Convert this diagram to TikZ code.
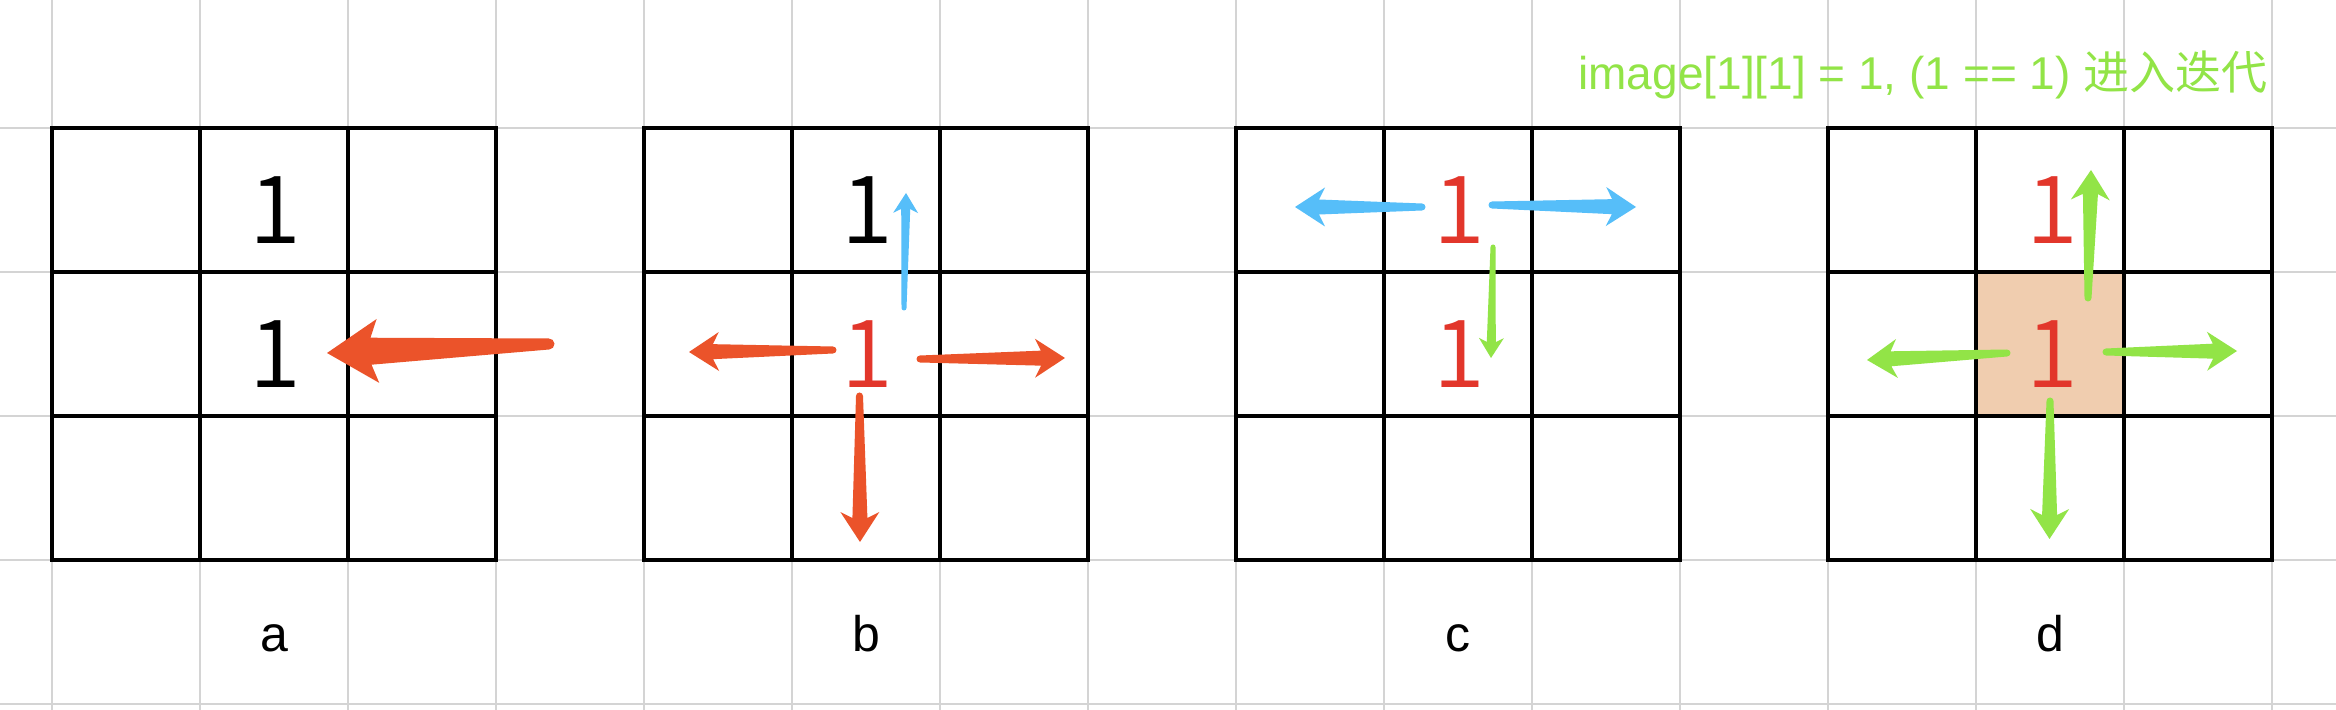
\documentclass[tikz,border=0pt]{standalone}
\usepackage{fontspec}
\usetikzlibrary{calc}
\setmainfont{Liberation Sans}
\newfontfamily\cjk{Noto Sans CJK SC}
\IfFontExistsTF{Noto Sans CJK SC DemiLight}{\newfontfamily\numfont{Noto Sans CJK SC DemiLight}}{%
  \IfFontExistsTF{Noto Sans CJK SC Light}{\newfontfamily\numfont{Noto Sans CJK SC Light}}{\newfontfamily\numfont{Noto Sans CJK SC}}}
\definecolor{gridgray}{HTML}{D4D4D4}
\definecolor{arrowred}{HTML}{EB532A}
\definecolor{numred}{HTML}{E2362B}
\definecolor{skyblue}{HTML}{56BEF9}
\definecolor{limegreen}{HTML}{92E447}
\definecolor{peach}{HTML}{F0CDAF}
% tapered arrow: #1 colour, #2 from, #3 to, #4 head length, #5 head half width,
% #6 notch, #7 shaft half width at head, #8 tail half width (all in px)
\newcommand{\tarrow}[8]{%
  \path let \p1=(#2), \p2=(#3), \n1={atan2(\y2-\y1,\x2-\x1)}, \n2={veclen(\x2-\x1,\y2-\y1)} in
    \pgfextra{\xdef\tarAng{\n1}\xdef\tarLen{\n2}\xdef\tarX{\x1}\xdef\tarY{\y1}};
  \begin{scope}[shift={(\tarX,\tarY)}, rotate=\tarAng]
    \fill[#1] (0pt,{#8*0.5pt}) -- ({\tarLen-(#4-#6)*0.5pt},{#7*0.5pt})
      -- ({\tarLen-#4*0.5pt},{#5*0.5pt}) -- ({\tarLen+0pt},0pt)
      -- ({\tarLen-#4*0.5pt},{-#5*0.5pt}) -- ({\tarLen-(#4-#6)*0.5pt},{-#7*0.5pt})
      -- (0pt,{-#8*0.5pt}) arc[start angle=-90, end angle=-270, radius={#8*0.5pt}] -- cycle;
  \end{scope}}
\newcommand{\bigarrow}[3]{\tarrow{#1}{#2}{#3}{51}{32}{7}{13.5}{5.5}}
\newcommand{\midarrow}[3]{\tarrow{#1}{#2}{#3}{30}{19.5}{6}{7.5}{3.5}}
\newcommand{\thinarrow}[3]{\tarrow{#1}{#2}{#3}{20}{12.5}{4}{4.5}{2.5}}
\tikzset{
  bggrid/.style={draw=gridgray, line width=0.75pt},
  board/.style={draw=black, line width=2pt, line cap=rect},
  digit/.style={anchor=base, inner sep=0pt, font=\numfont\fontsize{47}{50}\selectfont},
  lab/.style={anchor=base, inner sep=0pt, font=\fontsize{25}{30}\selectfont},
}
\begin{document}
\begin{tikzpicture}[x=0.5pt, y=-0.5pt]
\useasboundingbox (0,0) rectangle (2336,710);
\fill[white] (0,0) rectangle (2336,710);
% background grid
\foreach \k in {0,...,15} { \draw[bggrid] ({52+148*\k},0) -- ({52+148*\k},710); }
\foreach \y in {-16,128,272,416,560,704} { \draw[bggrid] (0,\y) -- (2336,\y); }
% highlighted cell of d
\fill[peach] (1976,272) rectangle (2124,416);
% boards
\foreach \p in {0,1,2,3} {
  \foreach \c in {0,1,2,3} {
    \draw[board] ({52+592*\p+148*\c},128) -- ({52+592*\p+148*\c},560);
    \draw[board] ({52+592*\p},{128+144*\c}) -- ({52+592*\p+444},{128+144*\c});
  }
}
% digits
\node[digit] (a1) at (275,244) {1};
\node[digit] (a2) at (275,388) {1};
\node[digit] (b1) at (867,244) {1};
\node[digit, text=numred] (b2) at (867,388) {1};
\node[digit, text=numred] (c1) at (1459,244) {1};
\node[digit, text=numred] (c2) at (1459,388) {1};
\node[digit, text=numred] (d1) at (2052,244) {1};
\node[digit, text=numred] (d2) at (2052,388) {1};
% arrow end points
\coordinate (as) at (549,344); \coordinate (ae) at (327,353);
\coordinate (bus) at (904,308); \coordinate (bue) at (906,193);
\coordinate (bls) at (833,350); \coordinate (ble) at (689,352);
\coordinate (brs) at (920,359); \coordinate (bre) at (1065,358);
\coordinate (bds) at (859.5,396); \coordinate (bde) at (860,542);
\coordinate (cls) at (1422,207); \coordinate (cle) at (1295,207);
\coordinate (crs) at (1492,205); \coordinate (cre) at (1636,207);
\coordinate (cds) at (1493,247); \coordinate (cde) at (1491,358);
\coordinate (dus) at (2088,298); \coordinate (due) at (2091,170);
\coordinate (dls) at (2007,353); \coordinate (dle) at (1867,360);
\coordinate (drs) at (2106,352); \coordinate (dre) at (2237,351);
\coordinate (dds) at (2050,401); \coordinate (dde) at (2049.5,539);
% arrows
\bigarrow{arrowred}{as}{ae}
\thinarrow{skyblue}{bus}{bue}
\midarrow{arrowred}{bls}{ble}
\midarrow{arrowred}{brs}{bre}
\midarrow{arrowred}{bds}{bde}
\midarrow{skyblue}{cls}{cle}
\midarrow{skyblue}{crs}{cre}
\thinarrow{limegreen}{cds}{cde}
\midarrow{limegreen}{dus}{due}
\midarrow{limegreen}{dls}{dle}
\midarrow{limegreen}{drs}{dre}
\midarrow{limegreen}{dds}{dde}
% labels
\node[lab] (la) at (274,652) {a};
\node[lab] (lb) at (866,652) {b};
\node[lab] (lc) at (1458,652) {c};
\node[lab] (ld) at (2050,652) {d};
\node[anchor=base west, inner sep=0pt, text=limegreen, font=\fontsize{23}{27}\selectfont] (title) at (1578,90) {image[1][1] = 1, (1 == 1) {\cjk 进入迭代}};
\end{tikzpicture}
\end{document}
